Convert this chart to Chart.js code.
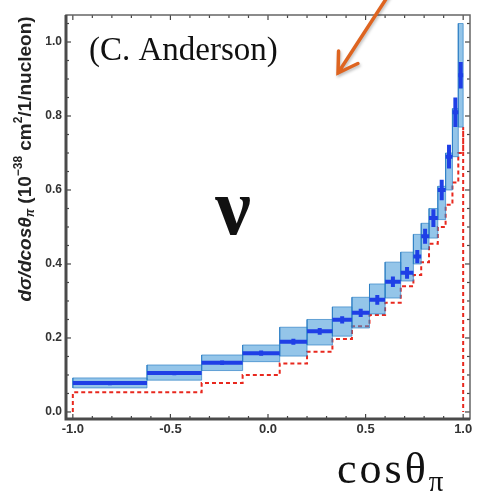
<!DOCTYPE html>
<html>
<head>
<meta charset="utf-8">
<script src="https://cdn.jsdelivr.net/npm/chart.js@4.4.0/dist/chart.umd.min.js"></script>
<style>
  html, body { margin: 0; padding: 0; background: #fff; }
  #wrap { position: relative; width: 477px; height: 499px; }
</style>
</head>
<body>
<div id="wrap"><canvas id="xsecChart" width="477" height="499"></canvas></div>
<script>
// cos(theta_pi) bin edges and the measured / predicted cross sections per bin
const binEdges = [-1.0, -0.62, -0.34, -0.13, 0.06, 0.2, 0.33, 0.43, 0.52, 0.6, 0.68, 0.745, 0.785, 0.825, 0.87, 0.91, 0.945, 0.975, 1.0];
const xsecData = [0.078, 0.105, 0.133, 0.159, 0.19, 0.218, 0.249, 0.268, 0.303, 0.352, 0.376, 0.42, 0.475, 0.524, 0.60, 0.69, 0.81, 0.91];
const statErr = [0.006, 0.006, 0.006, 0.007, 0.008, 0.009, 0.01, 0.011, 0.013, 0.014, 0.016, 0.018, 0.02, 0.024, 0.028, 0.032, 0.04, 0.036];
const systLow = [0.065, 0.086, 0.112, 0.136, 0.151, 0.181, 0.205, 0.227, 0.265, 0.308, 0.354, 0.40, 0.44, 0.47, 0.52, 0.60, 0.69, 0.77];
const systHigh = [0.092, 0.127, 0.154, 0.181, 0.229, 0.25, 0.284, 0.31, 0.346, 0.405, 0.432, 0.48, 0.51, 0.55, 0.61, 0.70, 0.82, 1.05];
const mcPrediction = [0.053, 0.078, 0.10, 0.131, 0.163, 0.197, 0.232, 0.262, 0.295, 0.34, 0.37, 0.405, 0.455, 0.50, 0.56, 0.62, 0.70, 0.77];

const xTickValues = [-1.0, -0.5, 0.0, 0.5, 1.0];
const yTickValues = [0.0, 0.2, 0.4, 0.6, 0.8, 1.0];

const DATA_BLUE = '#1f3fe6';
const BOX_FILL = 'rgba(60, 150, 215, 0.55)';
const BOX_EDGE = 'rgba(40, 125, 195, 0.65)';
const MC_RED = '#e8281e';

// one closed rectangle per bin for the systematic band
const boxDatasets = binEdges.slice(0, -1).map((x0, i) => {
  const x1 = binEdges[i + 1];
  return {
    data: [
      {x: x0, y: systLow[i]}, {x: x1, y: systLow[i]},
      {x: x1, y: systHigh[i]}, {x: x0, y: systHigh[i]}, {x: x0, y: systLow[i]}
    ],
    showLine: true,
    fill: 'shape',
    backgroundColor: BOX_FILL,
    borderColor: BOX_EDGE,
    borderWidth: 1,
    pointRadius: 0
  };
});

// horizontal segment per bin at the measured value, broken between bins
const dataSegments = [];
const statSegments = [];
binEdges.slice(0, -1).forEach((x0, i) => {
  const x1 = binEdges[i + 1];
  const xc = (x0 + x1) / 2;
  dataSegments.push({x: x0, y: xsecData[i]}, {x: x1, y: xsecData[i]}, {x: x1, y: null});
  statSegments.push({x: xc, y: xsecData[i] - statErr[i]}, {x: xc, y: xsecData[i] + statErr[i]}, {x: xc, y: null});
});

// stepped MC histogram, closed down to zero at both ends
const mcSteps = [{x: binEdges[0], y: 0}, {x: binEdges[0], y: mcPrediction[0]}];
mcPrediction.forEach((v, i) => mcSteps.push({x: binEdges[i + 1], y: v}));
mcSteps.push({x: binEdges[binEdges.length - 1], y: 0});

function drawRichText(ctx, parts) {
  let total = 0;
  parts.forEach(p => { ctx.font = p.font; total += ctx.measureText(p.t).width + (p.gap || 0); });
  let cx = -total / 2;
  parts.forEach(p => {
    ctx.font = p.font;
    ctx.fillText(p.t, cx, p.dy || 0);
    cx += ctx.measureText(p.t).width + (p.gap || 0);
  });
}

const framePlugin = {
  id: 'frameDecor',
  afterDatasetsDraw(chart) {
    const {ctx, chartArea: a, scales: {x, y}} = chart;
    ctx.save();
    // inward ticks on all four sides
    ctx.strokeStyle = '#444';
    ctx.lineWidth = 1.2;
    const tick = (x0, y0, x1, y1) => { ctx.beginPath(); ctx.moveTo(x0, y0); ctx.lineTo(x1, y1); ctx.stroke(); };
    for (let k = -10; k <= 10; k++) {
      const px = x.getPixelForValue(k / 10);
      const len = k % 5 === 0 ? 5 : 3;
      tick(px, a.bottom, px, a.bottom - len);
      tick(px, a.top, px, a.top + len);
    }
    for (let k = 0; k <= 21; k++) {
      const py = y.getPixelForValue(k * 0.05);
      const len = k % 4 === 0 ? 5 : 3;
      tick(a.left, py, a.left + len, py);
      tick(a.right, py, a.right - len, py);
    }
    // frame
    ctx.strokeStyle = '#666';
    ctx.lineWidth = 1.5;
    ctx.strokeRect(a.left, a.top, a.right - a.left, a.bottom - a.top);
    ctx.strokeStyle = '#4a4a4a';
    ctx.lineWidth = 3;
    ctx.beginPath();
    ctx.moveTo(a.left, a.top);
    ctx.lineTo(a.left, a.bottom);
    ctx.lineTo(a.right, a.bottom);
    ctx.stroke();

    // annotations
    ctx.fillStyle = '#111';
    ctx.textBaseline = 'alphabetic';
    ctx.textAlign = 'left';
    ctx.font = '33px "Liberation Serif"';
    ctx.fillText('(C. Anderson)', 89, 60);
    ctx.font = 'bold 80px "Liberation Serif"';
    ctx.textAlign = 'center';
    ctx.fillText('\u03bd', 233, 234);

    // axis title below
    ctx.textAlign = 'left';
    ctx.font = '44px "Liberation Serif"';
    ctx.letterSpacing = '3px';
    ctx.fillText('cos\u03b8', 337, 483);
    const w = ctx.measureText('cos\u03b8').width;
    ctx.letterSpacing = '0px';
    ctx.font = '29px "Liberation Serif"';
    ctx.fillText('\u03c0', 337 + w, 491);

    // rotated y title
    ctx.save();
    ctx.translate(26, 159);
    ctx.rotate(-Math.PI / 2);
    ctx.textBaseline = 'middle';
    ctx.fillStyle = '#222';
    drawRichText(ctx, [
      {t: 'd\u03c3/dcos\u03b8', font: 'italic bold 19px "Liberation Sans"'},
      {t: '\u03c0', font: 'italic bold 12px "Liberation Sans"', dy: 5, gap: 5},
      {t: '(10', font: 'bold 19px "Liberation Sans"'},
      {t: '\u221238', font: 'bold 12px "Liberation Sans"', dy: -7, gap: 5},
      {t: 'cm', font: 'bold 19px "Liberation Sans"'},
      {t: '2', font: 'bold 12px "Liberation Sans"', dy: -7},
      {t: '/1/nucleon)', font: 'bold 19px "Liberation Sans"'}
    ]);
    ctx.restore();

    // orange pointer arrow
    const tip = {x: 338, y: 73};
    const tail = {x: 388, y: -4};
    const ang = Math.atan2(tail.y - tip.y, tail.x - tip.x);
    ctx.strokeStyle = '#de6420';
    ctx.lineWidth = 3.5;
    ctx.lineCap = 'round';
    ctx.shadowColor = 'rgba(0,0,0,0.25)';
    ctx.shadowBlur = 3;
    ctx.shadowOffsetX = 1;
    ctx.shadowOffsetY = 2;
    ctx.beginPath();
    ctx.moveTo(tail.x, tail.y);
    ctx.lineTo(tip.x, tip.y);
    ctx.moveTo(tip.x + 22 * Math.cos(ang - 0.55), tip.y + 22 * Math.sin(ang - 0.55));
    ctx.lineTo(tip.x, tip.y);
    ctx.lineTo(tip.x + 22 * Math.cos(ang + 0.55), tip.y + 22 * Math.sin(ang + 0.55));
    ctx.stroke();
    ctx.restore();
  }
};

const ctx = document.getElementById('xsecChart').getContext('2d');
new Chart(ctx, {
  type: 'scatter',
  data: {
    datasets: [
      {
        data: dataSegments,
        showLine: true,
        spanGaps: false,
        borderColor: DATA_BLUE,
        borderWidth: 4,
        pointRadius: 0
      },
      {
        data: statSegments,
        showLine: true,
        spanGaps: false,
        borderColor: DATA_BLUE,
        borderWidth: 4,
        pointRadius: 0
      },
      ...boxDatasets,
      {
        data: mcSteps,
        showLine: true,
        stepped: 'before',
        borderColor: MC_RED,
        borderWidth: 2,
        borderDash: [4, 3],
        pointRadius: 0
      }
    ]
  },
  options: {
    responsive: false,
    animation: false,
    layout: {padding: {top: 15, right: 7, left: 0, bottom: 0}},
    plugins: {
      legend: {display: false},
      tooltip: {enabled: false}
    },
    scales: {
      x: {
        type: 'linear',
        min: -1.035,
        max: 1.035,
        afterBuildTicks: scale => { scale.ticks = xTickValues.map(v => ({value: v})); },
        afterFit: scale => { scale.height = 80; },
        grid: {display: false, drawTicks: false},
        border: {display: false},
        ticks: {
          padding: 3,
          color: '#333',
          font: {family: '"Liberation Sans"', size: 13, weight: 'bold'},
          callback: v => v.toFixed(1)
        }
      },
      y: {
        type: 'linear',
        min: -0.019,
        max: 1.073,
        afterBuildTicks: scale => { scale.ticks = yTickValues.map(v => ({value: v})); },
        afterFit: scale => { scale.width = 66; },
        grid: {display: false, drawTicks: false},
        border: {display: false},
        ticks: {
          padding: 4,
          color: '#333',
          font: {family: '"Liberation Sans"', size: 12, weight: 'bold'},
          callback: v => v.toFixed(1)
        }
      }
    }
  },
  plugins: [framePlugin]
});
</script>
</body>
</html>
